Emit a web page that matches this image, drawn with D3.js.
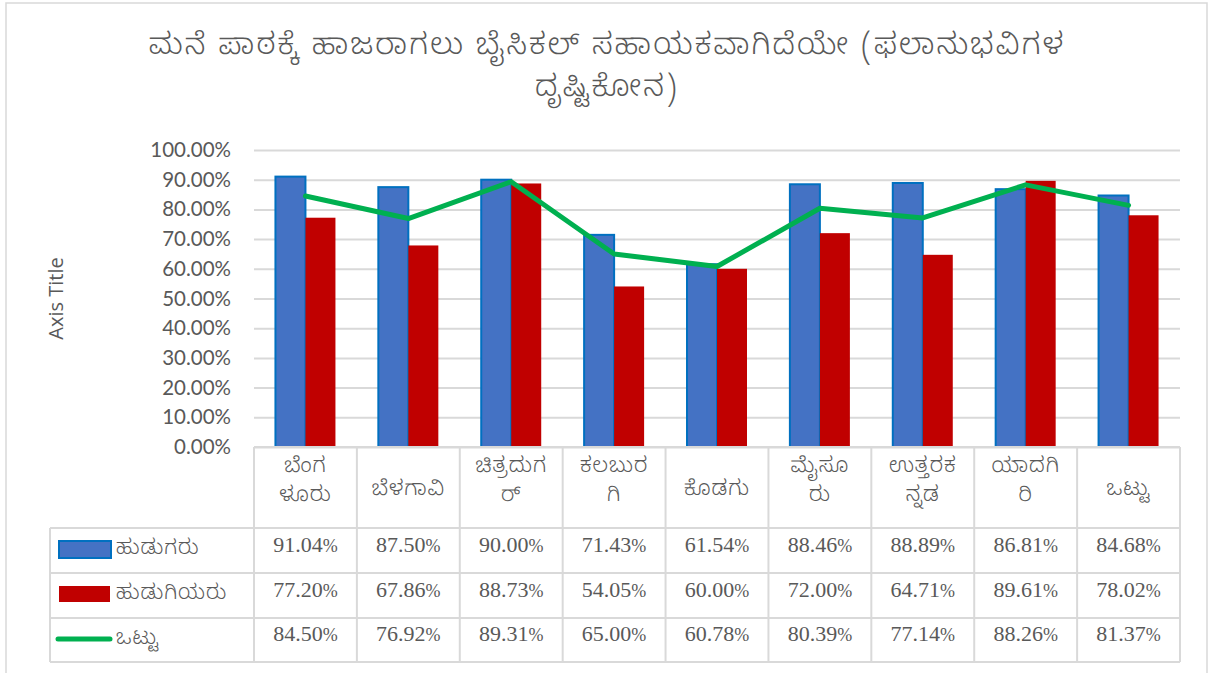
<!DOCTYPE html>
<html>
<head>
<meta charset="utf-8">
<script src="https://cdn.jsdelivr.net/npm/d3@7"></script>
<style>
  html, body { margin: 0; padding: 0; background: #fff; }
  svg { display: block; }
</style>
</head>
<body>
<svg id="chart" width="1214" height="673"></svg>
<script>
// District names (x categories) and the wrapped text shown in each header cell
const categories = ["ಬೆಂಗಳೂರು", "ಬೆಳಗಾವಿ", "ಚಿತ್ರದುರ್ಗ", "ಕಲಬುರಗಿ", "ಕೊಡಗು", "ಮೈಸೂರು", "ಉತ್ತರಕನ್ನಡ", "ಯಾದಗಿರಿ", "ಒಟ್ಟು"];
const categoryLines = [["ಬೆಂಗ", "ಳೂರು"], ["ಬೆಳಗಾವಿ"], ["ಚಿತ್ರದುಗ", "ರ್"], ["ಕಲಬುರ", "ಗಿ"], ["ಕೊಡಗು"], ["ಮೈಸೂ", "ರು"], ["ಉತ್ತರಕ", "ನ್ನಡ"], ["ಯಾದಗಿ", "ರಿ"], ["ಒಟ್ಟು"]];

// Series (fractions)
const seriesNames = ["ಹುಡುಗರು", "ಹುಡುಗಿಯರು", "ಒಟ್ಟು"];
const boys  = [0.9104, 0.8750, 0.9000, 0.7143, 0.6154, 0.8846, 0.8889, 0.8681, 0.8468];
const girls = [0.7720, 0.6786, 0.8873, 0.5405, 0.6000, 0.7200, 0.6471, 0.8961, 0.7802];
const total = [0.8450, 0.7692, 0.8931, 0.6500, 0.6078, 0.8039, 0.7714, 0.8826, 0.8137];

// Y axis ticks
const yTicks = [0, 0.1, 0.2, 0.3, 0.4, 0.5, 0.6, 0.7, 0.8, 0.9, 1.0];

const titleLines = ["ಮನೆ ಪಾಠಕ್ಕೆ ಹಾಜರಾಗಲು ಬೈಸಿಕಲ್ ಸಹಾಯಕವಾಗಿದೆಯೇ (ಫಲಾನುಭವಿಗಳ", "ದೃಷ್ಟಿಕೋನ)"];
const axisTitle = "Axis Title";

const svg = d3.select("#chart");
const gray = "#595959";
const gridColor = "#D9D9D9";
const sansFont = "Lato, 'Open Sans', 'Noto Sans', sans-serif";
const knFont = "'Noto Sans Kannada', 'Noto Sans', sans-serif";
const serifFont = "'Liberation Serif', 'DejaVu Serif', serif";

const plot = { left: 254, right: 1180, top: 150, bottom: 447 };

// Chart area border
svg.append("rect")
  .attr("x", 6).attr("y", 3).attr("width", 1201).attr("height", 690)
  .attr("fill", "#fff").attr("stroke", gridColor).attr("stroke-width", 1.5);

// Title
svg.append("text")
  .attr("text-anchor", "middle")
  .attr("font-family", knFont).attr("font-size", 30).attr("font-weight", 300)
  .attr("letter-spacing", 2.2).attr("fill", gray)
  .selectAll("tspan").data(titleLines).join("tspan")
  .attr("x", 607).attr("y", (d, i) => 54 + i * 42)
  .text(d => d);

const x = d3.scaleBand().domain(categories).range([plot.left, plot.right]).padding(0);
const gapWidth = 1.43;
const xs = d3.scaleBand().domain([0, 1]).range([0, x.bandwidth()])
  .paddingInner(0).paddingOuter(gapWidth / 2);
const y = d3.scaleLinear().domain([0, 1]).range([plot.bottom, plot.top]);

// Gridlines + tick labels
const yAxis = d3.axisLeft(y).tickValues(yTicks).tickFormat(d3.format(".2%"))
  .tickSize(-(plot.right - plot.left)).tickPadding(23);
const ga = svg.append("g").attr("transform", `translate(${plot.left},0)`).call(yAxis);
ga.select(".domain").remove();
ga.selectAll(".tick line").attr("stroke", gridColor).attr("stroke-width", 2);
ga.selectAll(".tick text").attr("fill", gray).attr("font-family", sansFont).attr("font-size", 20.5);

// Axis title
svg.append("text")
  .attr("transform", `translate(63,${(plot.top + plot.bottom) / 2}) rotate(-90)`)
  .attr("text-anchor", "middle")
  .attr("font-family", "'Open Sans', Lato, sans-serif").attr("font-size", 20).attr("fill", gray)
  .text(axisTitle);

// Bars
const barData = categories.flatMap((c, i) => [
  { c, s: 0, v: boys[i] },
  { c, s: 1, v: girls[i] }
]);
svg.append("g").selectAll("rect").data(barData).join("rect")
  .attr("x", d => x(d.c) + xs(d.s))
  .attr("y", d => y(d.v))
  .attr("width", xs.bandwidth())
  .attr("height", d => y(0) - y(d.v))
  .attr("fill", d => d.s === 0 ? "#4472C4" : "#C00000")
  .attr("stroke", d => d.s === 0 ? "#0070C0" : "none")
  .attr("stroke-width", 2);

// Total line
const line = d3.line().x((d, i) => x(categories[i]) + x.bandwidth() / 2).y(d => y(d));
svg.append("path").datum(total)
  .attr("d", line)
  .attr("fill", "none").attr("stroke", "#00B050").attr("stroke-width", 5)
  .attr("stroke-linejoin", "round").attr("stroke-linecap", "round");

// Data table
const rowsY = [447, 528, 573, 618, 662];
const tbl = svg.append("g").attr("stroke", gridColor).attr("stroke-width", 2);
tbl.append("line").attr("x1", plot.left).attr("x2", plot.right).attr("y1", rowsY[0]).attr("y2", rowsY[0]);
rowsY.slice(1).forEach(yy => {
  tbl.append("line").attr("x1", 50).attr("x2", plot.right).attr("y1", yy).attr("y2", yy);
});
tbl.append("line").attr("x1", 50).attr("x2", 50).attr("y1", rowsY[1]).attr("y2", rowsY[4]);
categories.forEach(c => {
  tbl.append("line").attr("x1", x(c)).attr("x2", x(c)).attr("y1", rowsY[0]).attr("y2", rowsY[4]);
});
tbl.append("line").attr("x1", plot.right).attr("x2", plot.right).attr("y1", rowsY[0]).attr("y2", rowsY[4]);

// Header cells: category names
svg.append("g").selectAll("text").data(categories).join("text")
  .attr("text-anchor", "middle")
  .attr("font-family", knFont).attr("font-size", 21).attr("font-weight", 300)
  .attr("letter-spacing", 1).attr("fill", gray)
  .each(function (c, i) {
    const lines = categoryLines[i];
    const cx = x(c) + x.bandwidth() / 2;
    const y0 = lines.length === 1 ? 495 : 472;
    d3.select(this).selectAll("tspan").data(lines).join("tspan")
      .attr("x", cx).attr("y", (d, k) => y0 + k * 29).text(d => d);
  });

// Value cells
const fmtNum = d3.format(".2f");
[boys, girls, total].forEach((vals, r) => {
  const cy = (rowsY[r + 1] + rowsY[r + 2]) / 2 + 1;
  svg.append("g").selectAll("text").data(vals).join("text")
    .attr("x", (d, i) => x(categories[i]) + x.bandwidth() / 2)
    .attr("y", cy)
    .attr("text-anchor", "middle")
    .attr("font-family", serifFont).attr("font-size", 22).attr("fill", gray)
    .each(function (d) {
      const t = d3.select(this);
      t.append("tspan").text(fmtNum(d * 100));
      t.append("tspan").attr("font-size", 18).text("%");
    });
});

// Legend keys inside the table
const keyG = svg.append("g");
keyG.append("rect").attr("x", 59).attr("y", 541).attr("width", 52).attr("height", 17)
  .attr("fill", "#4472C4").attr("stroke", "#0070C0").attr("stroke-width", 2);
keyG.append("rect").attr("x", 59).attr("y", 586).attr("width", 51).attr("height", 16)
  .attr("fill", "#C00000");
keyG.append("line").attr("x1", 58).attr("x2", 110).attr("y1", 639).attr("y2", 639)
  .attr("stroke", "#00B050").attr("stroke-width", 5).attr("stroke-linecap", "round");
keyG.selectAll("text").data(seriesNames).join("text")
  .attr("x", 116).attr("y", (d, i) => 554 + i * 45)
  .attr("font-family", knFont).attr("font-size", 20.5).attr("font-weight", 300)
  .attr("letter-spacing", 1).attr("fill", gray)
  .text(d => d);
</script>
</body>
</html>
